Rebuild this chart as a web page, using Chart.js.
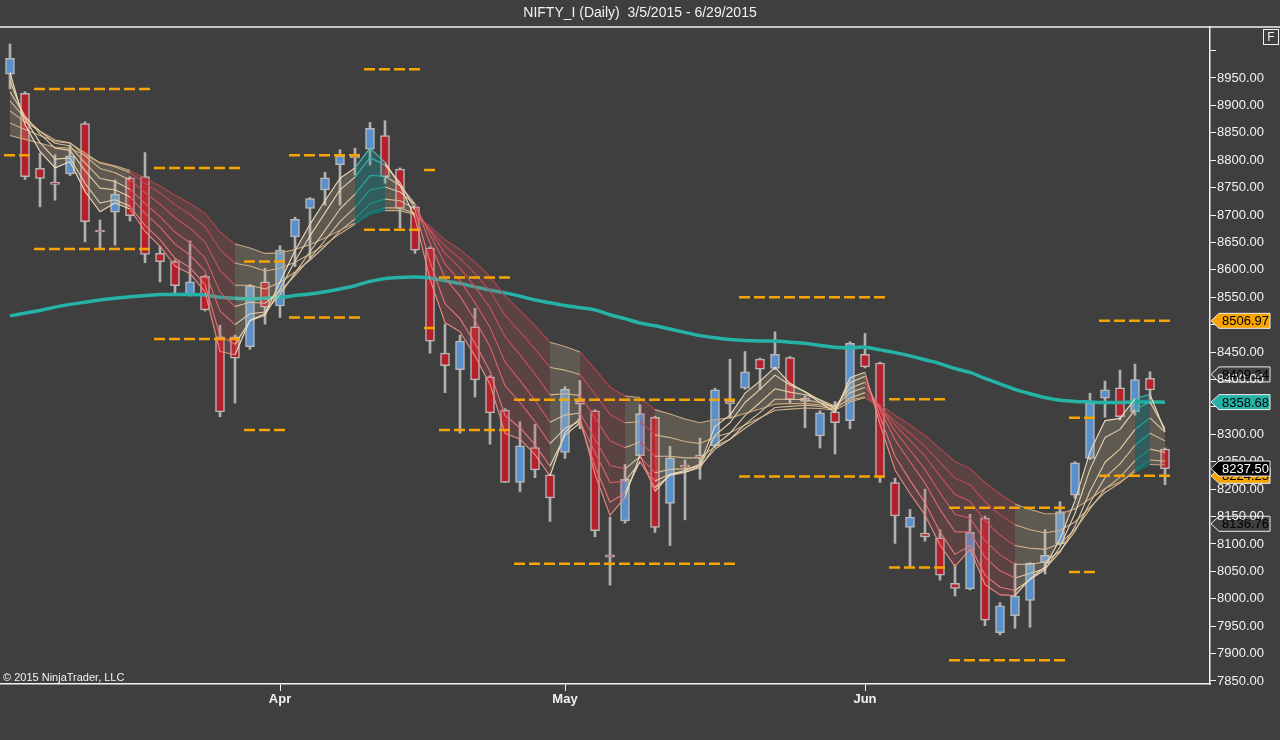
<!DOCTYPE html>
<html>
<head>
<meta charset="utf-8">
<script src="https://cdn.jsdelivr.net/npm/chart.js"></script>
<style>
  html, body { margin: 0; padding: 0; background: #3f3f3f; }
  canvas { display: block; }
</style>
</head>
<body>
<canvas id="chart" width="1280" height="740"></canvas>
<script>
// trading days shown on the chart
const dates = [
  '2015-03-05','2015-03-09','2015-03-10','2015-03-11','2015-03-12','2015-03-13','2015-03-16','2015-03-17','2015-03-18','2015-03-19',
  '2015-03-20','2015-03-23','2015-03-24','2015-03-25','2015-03-26','2015-03-27','2015-03-30','2015-03-31',
  '2015-04-01','2015-04-06','2015-04-07','2015-04-08','2015-04-09','2015-04-10','2015-04-13','2015-04-15','2015-04-16','2015-04-17',
  '2015-04-20','2015-04-21','2015-04-22','2015-04-23','2015-04-24','2015-04-27','2015-04-28','2015-04-29','2015-04-30',
  '2015-05-04','2015-05-05','2015-05-06','2015-05-07','2015-05-08','2015-05-11','2015-05-12','2015-05-13','2015-05-14','2015-05-15',
  '2015-05-18','2015-05-19','2015-05-20','2015-05-21','2015-05-22','2015-05-25','2015-05-26','2015-05-27','2015-05-28','2015-05-29',
  '2015-06-01','2015-06-02','2015-06-03','2015-06-04','2015-06-05','2015-06-08','2015-06-09','2015-06-10','2015-06-11','2015-06-12',
  '2015-06-15','2015-06-16','2015-06-17','2015-06-18','2015-06-19','2015-06-22','2015-06-23','2015-06-24','2015-06-25','2015-06-26',
  '2015-06-29'
]

const opens = [8957, 8922, 8785, 8758, 8775, 8867, 8672, 8705, 8768, 8770, 8630, 8615, 8555, 8588, 8478, 8478, 8460, 8578, 8534, 8660,
  8712, 8746, 8792, 8806, 8820, 8845, 8784, 8715, 8640, 8448, 8418, 8496, 8405, 8344, 8212, 8276, 8226, 8267, 8361, 8343,
  8080, 8142, 8261, 8331, 8174, 8243, 8261, 8279, 8360, 8384, 8437, 8420, 8440, 8366, 8297, 8341, 8325, 8446, 8430, 8212,
  8130, 8120, 8111, 8028, 8018, 8147, 7938, 7969, 7997, 8066, 8100, 8189, 8256, 8366, 8385, 8341, 8402, 8273]
const highs = [9012, 8925, 8813, 8810, 8828, 8870, 8691, 8764, 8770, 8814, 8643, 8618, 8653, 8590, 8499, 8481, 8573, 8603, 8644, 8696,
  8732, 8778, 8819, 8822, 8869, 8872, 8786, 8718, 8642, 8501, 8481, 8530, 8407, 8347, 8323, 8318, 8228, 8387, 8398, 8345,
  8149, 8245, 8354, 8333, 8278, 8253, 8293, 8384, 8437, 8451, 8439, 8487, 8442, 8370, 8343, 8360, 8469, 8484, 8432, 8220,
  8163, 8200, 8126, 8062, 8154, 8151, 7993, 8065, 8066, 8126, 8177, 8250, 8375, 8397, 8417, 8428, 8414, 8275]
const lows = [8930, 8765, 8715, 8727, 8772, 8651, 8639, 8645, 8689, 8613, 8578, 8557, 8552, 8525, 8332, 8357, 8455, 8501, 8513, 8606,
  8621, 8718, 8718, 8773, 8791, 8758, 8676, 8630, 8448, 8376, 8302, 8368, 8282, 8212, 8195, 8221, 8141, 8256, 8310, 8113,
  8025, 8138, 8256, 8121, 8097, 8144, 8218, 8276, 8329, 8382, 8382, 8418, 8357, 8312, 8275, 8264, 8310, 8421, 8212, 8101,
  8059, 8105, 8034, 8005, 8016, 7951, 7934, 7946, 7948, 8045, 8098, 8183, 8254, 8331, 8326, 8335, 8363, 8208]
const closes = [8986, 8770, 8767, 8756, 8808, 8688, 8669, 8738, 8699, 8628, 8615, 8571, 8578, 8527, 8341, 8439, 8571, 8532, 8636, 8692,
  8730, 8768, 8808, 8804, 8858, 8770, 8712, 8636, 8470, 8425, 8470, 8399, 8339, 8212, 8279, 8235, 8184, 8382, 8355, 8124,
  8076, 8218, 8338, 8130, 8257, 8240, 8258, 8381, 8356, 8414, 8419, 8446, 8363, 8360, 8339, 8321, 8466, 8423, 8222, 8151,
  8149, 8113, 8043, 8019, 8121, 7961, 7987, 8005, 8065, 8079, 8159, 8248, 8357, 8381, 8332, 8400, 8381, 8237.50]

// long moving average (teal)
const ma = [8516, 8521, 8526, 8532, 8537, 8541, 8545, 8548, 8551, 8553, 8555, 8555, 8555, 8554, 8550, 8548, 8547, 8548, 8550, 8553,
  8556, 8560, 8565, 8571, 8579, 8584, 8586, 8587, 8585, 8580, 8575, 8569, 8563, 8558, 8552, 8545, 8540, 8535, 8531, 8527,
  8518, 8511, 8503, 8498, 8492, 8486, 8480, 8476, 8473, 8471, 8470, 8470, 8468, 8466, 8462, 8459, 8458, 8459, 8454, 8449,
  8443, 8436, 8429, 8420, 8413, 8402, 8392, 8382, 8374, 8367, 8362, 8360, 8359, 8358, 8358, 8359, 8359, 8358.68]

// moving average ribbon, fastest line first
const ribbon1 = [8960, 8865, 8816, 8786, 8797, 8743, 8706, 8722, 8711, 8670, 8643, 8607, 8593, 8560, 8451, 8445, 8508, 8520, 8578, 8635,
  8683, 8726, 8767, 8786, 8822, 8796, 8754, 8695, 8583, 8504, 8487, 8443, 8391, 8302, 8291, 8263, 8224, 8303, 8329, 8227,
  8152, 8185, 8262, 8196, 8227, 8234, 8246, 8314, 8335, 8375, 8397, 8422, 8393, 8377, 8358, 8340, 8403, 8413, 8318, 8235,
  8192, 8153, 8098, 8059, 8090, 8026, 8007, 8006, 8036, 8058, 8109, 8179, 8268, 8325, 8329, 8365, 8373, 8305]
const ribbon2 = [8945, 8875, 8832, 8802, 8804, 8758, 8722, 8728, 8716, 8681, 8655, 8621, 8604, 8573, 8480, 8464, 8507, 8517, 8565, 8616,
  8662, 8704, 8746, 8769, 8805, 8791, 8759, 8710, 8614, 8538, 8511, 8466, 8415, 8334, 8312, 8281, 8242, 8298, 8321, 8242,
  8176, 8193, 8251, 8203, 8225, 8231, 8242, 8298, 8321, 8358, 8382, 8408, 8390, 8378, 8362, 8346, 8394, 8406, 8332, 8260,
  8216, 8175, 8122, 8081, 8097, 8043, 8021, 8015, 8035, 8053, 8095, 8156, 8236, 8294, 8309, 8345, 8359, 8310]
const ribbon3 = [8925, 8881, 8848, 8822, 8818, 8781, 8749, 8746, 8733, 8703, 8678, 8647, 8627, 8598, 8525, 8500, 8520, 8523, 8555, 8594,
  8633, 8672, 8711, 8738, 8772, 8771, 8754, 8720, 8649, 8585, 8552, 8508, 8460, 8389, 8358, 8323, 8283, 8311, 8324, 8267,
  8212, 8214, 8249, 8215, 8227, 8231, 8239, 8280, 8302, 8334, 8358, 8383, 8377, 8372, 8363, 8351, 8384, 8395, 8345, 8290,
  8250, 8211, 8163, 8122, 8122, 8076, 8051, 8038, 8046, 8055, 8085, 8132, 8196, 8249, 8273, 8309, 8330, 8304]
const ribbon4 = [8908, 8877, 8853, 8831, 8826, 8795, 8767, 8761, 8747, 8721, 8697, 8669, 8649, 8622, 8560, 8533, 8541, 8539, 8561, 8590,
  8621, 8654, 8688, 8714, 8746, 8751, 8742, 8719, 8664, 8611, 8580, 8540, 8495, 8432, 8398, 8362, 8322, 8335, 8339, 8291,
  8243, 8237, 8259, 8230, 8236, 8237, 8242, 8273, 8291, 8318, 8340, 8364, 8364, 8363, 8358, 8350, 8376, 8386, 8350, 8306,
  8271, 8236, 8193, 8154, 8147, 8106, 8080, 8063, 8063, 8067, 8087, 8123, 8175, 8221, 8246, 8280, 8302, 8288]
const ribbon5 = [8890, 8870, 8853, 8837, 8832, 8808, 8785, 8777, 8764, 8741, 8720, 8695, 8676, 8651, 8599, 8572, 8572, 8565, 8577, 8596,
  8618, 8643, 8671, 8693, 8721, 8729, 8726, 8711, 8671, 8630, 8603, 8569, 8531, 8478, 8445, 8410, 8372, 8374, 8371, 8330,
  8288, 8276, 8286, 8260, 8260, 8257, 8257, 8278, 8291, 8311, 8329, 8349, 8351, 8353, 8351, 8346, 8366, 8376, 8350, 8317,
  8289, 8260, 8224, 8190, 8178, 8142, 8116, 8097, 8092, 8090, 8101, 8126, 8164, 8200, 8222, 8252, 8273, 8267]
const ribbon6 = [8868, 8856, 8845, 8834, 8831, 8813, 8795, 8788, 8777, 8758, 8740, 8719, 8701, 8679, 8637, 8612, 8607, 8598, 8603, 8614,
  8629, 8646, 8666, 8683, 8705, 8713, 8713, 8703, 8674, 8643, 8621, 8593, 8561, 8517, 8487, 8456, 8422, 8417, 8409, 8373,
  8336, 8321, 8323, 8299, 8294, 8287, 8283, 8295, 8303, 8317, 8330, 8344, 8346, 8348, 8347, 8344, 8359, 8367, 8349, 8324,
  8302, 8278, 8249, 8220, 8208, 8177, 8153, 8135, 8126, 8120, 8125, 8140, 8167, 8194, 8211, 8235, 8253, 8251]
const ribbon7 = [8845, 8838, 8831, 8824, 8822, 8809, 8796, 8790, 8781, 8767, 8753, 8736, 8721, 8703, 8669, 8647, 8640, 8630, 8631, 8637,
  8646, 8658, 8672, 8685, 8701, 8708, 8708, 8701, 8679, 8655, 8637, 8614, 8588, 8552, 8526, 8498, 8468, 8460, 8450, 8419,
  8386, 8370, 8367, 8345, 8337, 8328, 8321, 8327, 8330, 8338, 8346, 8355, 8356, 8356, 8354, 8351, 8362, 8368, 8354, 8335,
  8317, 8298, 8274, 8250, 8238, 8212, 8191, 8173, 8163, 8155, 8155, 8164, 8182, 8201, 8213, 8231, 8245, 8244]
// ribbon state of the stretch ending at each bar: u = rising, d = falling, t = turning
const ribbonTone = ['u','u','u','u','u','u','u','u','u','d','d','d','d','d','d','d','u','u','u','u',
  'u','u','u','u','t','t','u','u','d','d','d','d','d','d','d','d','d','u','u','d',
  'd','d','u','d','u','u','u','u','u','u','u','u','u','u','u','u','u','u','d','d',
  'd','d','d','d','d','d','d','d','u','u','u','u','u','u','u','u','t','u']

// prior-period high / low levels (orange dashes), by bar range
const levelStart = [0, 2, 10, 16, 19, 24, 28, 29, 34, 49, 59, 63, 71, 73]
const levelEnd = [1, 9, 15, 18, 23, 27, 28, 33, 48, 58, 62, 70, 72, 77]
const levelHigh = [null, 8930, 8786, 8615, 8809, 8966, 8782, 8586, 8363, 8550, 8364, 8166, 8330, 8506.97]
const levelLow = [8809, 8638, 8474, 8308, 8513, 8673, 8494, 8308, 8064, 8223, 8057, 7888, 8049, 8224.25]

// other price markers on the axis
const extraMarkers = [8409.24, 8136.76]

const yTickValues = [7850, 7900, 7950, 8000, 8050, 8100, 8150, 8200, 8250, 8300, 8350, 8400, 8450, 8500, 8550, 8600,
  8650, 8700, 8750, 8800, 8850, 8900, 8950, 9000]
const monthNames = ['Jan','Feb','Mar','Apr','May','Jun','Jul','Aug','Sep','Oct','Nov','Dec']

const FONT = '"Liberation Sans", Arial, sans-serif'
const INK = '#f2f2f2'

const monthStarts = dates
    .map((d, i) => i > 0 && d.slice(5, 7) !== dates[i - 1].slice(5, 7) ? i : -1)
    .filter(i => i >= 0)

const ribbonInk = {
  u: ['#eedcbc', '#e8d3b0', '#e2caa5', '#dcc29b', '#d6b991', '#cfb088', '#c8a880'],
  d: ['#ee8a84', '#e67777', '#dc676c', '#d25b63', '#c8525b', '#be4a55', '#b4444f'],
  t: ['#3fc3bd', '#33b7b1', '#28aba6', '#1f9f9b', '#179390', '#108785', '#0b7b7a']
}
const ribbonWash = {
  u: 'rgba(222,198,160,0.2)',
  d: 'rgba(205,80,85,0.2)',
  t: 'rgba(25,160,155,0.32)'
}

function levelPoints(values) {
  let pts = []
  values.forEach((v, k) => {
    if (v === null) return
    pts.push({x: levelStart[k] - 0.4, y: v}, {x: levelEnd[k] + 0.45, y: v}, {x: levelEnd[k] + 0.5, y: null})
  })
  return pts
}

function ribbonLine(values, k, extra) {
  return Object.assign({
    type: 'line',
    data: values.map((v, i) => ({x: i, y: v})),
    borderWidth: 1.1,
    pointRadius: 0,
    tension: 0,
    borderJoinStyle: 'round',
    order: 1 + k,
    segment: {
      borderColor: ctx => ribbonInk[ribbonTone[ctx.p1DataIndex]][k]
    }
  }, extra || {})
}

const levelStyle = {
  type: 'line',
  borderColor: '#f7a400',
  borderWidth: 2.5,
  borderDash: [11, 4],
  pointRadius: 0,
  spanGaps: false,
  fill: false,
  order: 0
}

const datasets = [
  Object.assign({data: levelPoints(levelHigh)}, levelStyle),
  Object.assign({data: levelPoints(levelLow)}, levelStyle),
  ribbonLine(ribbon1, 0),
  ribbonLine(ribbon2, 1),
  ribbonLine(ribbon3, 2),
  ribbonLine(ribbon4, 3),
  ribbonLine(ribbon5, 4),
  ribbonLine(ribbon6, 5),
  ribbonLine(ribbon7, 6, {
    fill: {target: 2},
    backgroundColor: ribbonWash.u,
    segment: {
      borderColor: ctx => ribbonInk[ribbonTone[ctx.p1DataIndex]][6],
      backgroundColor: ctx => ribbonWash[ribbonTone[ctx.p1DataIndex]]
    }
  }),
  {
    type: 'line',
    data: ma.map((v, i) => ({x: i, y: v})),
    borderColor: '#25b3a7',
    borderWidth: 3.5,
    pointRadius: 0,
    tension: 0.3,
    order: 8
  },
  {
    type: 'bar',
    data: opens.map((o, i) => ({x: i, y: [o, closes[i]]})),
    backgroundColor: opens.map((o, i) => closes[i] >= o ? '#5790cc' : '#b5202b'),
    borderColor: '#b7b7b7',
    borderWidth: 1.5,
    borderSkipped: false,
    barThickness: 9,
    minBarLength: 2,
    grouped: false,
    order: 9
  },
  {
    type: 'bar',
    data: lows.map((l, i) => ({x: i, y: [l, highs[i]]})),
    backgroundColor: '#b0b0b0',
    borderWidth: 0,
    barThickness: 2,
    grouped: false,
    order: 10
  }
]

function drawMarker(ctx, x0, y, text, fill, ink) {
  const h = 15, tip = 8, x1 = 1270
  ctx.beginPath()
  ctx.moveTo(x0, y)
  ctx.lineTo(x0 + tip, y - h / 2)
  ctx.lineTo(x1, y - h / 2)
  ctx.lineTo(x1, y + h / 2)
  ctx.lineTo(x0 + tip, y + h / 2)
  ctx.closePath()
  if (fill) {
    ctx.fillStyle = fill
    ctx.fill()
  }
  ctx.strokeStyle = '#eeeeee'
  ctx.lineWidth = 1
  ctx.stroke()
  ctx.fillStyle = ink
  ctx.font = `13px ${FONT}`
  ctx.textAlign = 'left'
  ctx.textBaseline = 'middle'
  ctx.fillText(text, x0 + 11, y + 1)
}

const chrome = {
  id: 'chrome',
  beforeDraw(chart) {
    let ctx = chart.ctx
    ctx.save()
    ctx.fillStyle = '#3f3f3f'
    ctx.fillRect(0, 0, chart.width, chart.height)
    ctx.restore()
  },
  afterDraw(chart) {
    let ctx = chart.ctx
    let area = chart.chartArea
    let yScale = chart.scales.y
    ctx.save()
    ctx.strokeStyle = INK
    ctx.lineWidth = 1.5
    ctx.beginPath()
    ctx.moveTo(0, 27)
    ctx.lineTo(chart.width, 27)
    ctx.stroke()

    ctx.lineWidth = 1
    ctx.strokeRect(1263.5, 29.5, 15, 15)
    ctx.fillStyle = INK
    ctx.font = `12px ${FONT}`
    ctx.textAlign = 'center'
    ctx.textBaseline = 'middle'
    ctx.fillText('F', 1271, 37.5)

    ctx.textAlign = 'left'
    ctx.font = `11px ${FONT}`
    ctx.fillText('© 2015 NinjaTrader, LLC', 3, area.bottom - 6)

    let x0 = area.right + 1
    extraMarkers.forEach(v => drawMarker(ctx, x0, yScale.getPixelForValue(v), v.toFixed(2), null, '#000000'))
    drawMarker(ctx, x0, yScale.getPixelForValue(levelHigh.at(-1)), levelHigh.at(-1).toFixed(2), '#f7a400', '#000000')
    drawMarker(ctx, x0, yScale.getPixelForValue(ma.at(-1)), ma.at(-1).toFixed(2), '#25b3a7', '#000000')
    drawMarker(ctx, x0, yScale.getPixelForValue(levelLow.at(-1)), levelLow.at(-1).toFixed(2), '#f7a400', '#000000')
    drawMarker(ctx, x0, yScale.getPixelForValue(closes.at(-1)), closes.at(-1).toFixed(2), '#000000', '#ffffff')
    ctx.restore()
  }
}

new Chart(document.getElementById('chart'), {
  type: 'bar',
  data: {datasets: datasets},
  options: {
    responsive: false,
    animation: false,
    events: [],
    devicePixelRatio: 1,
    layout: {padding: 0},
    plugins: {
      legend: {display: false},
      tooltip: {enabled: false},
      title: {
        display: true,
        text: 'NIFTY_I (Daily)  3/5/2015 - 6/29/2015',
        color: INK,
        font: {family: FONT, size: 14, weight: 'normal', lineHeight: 1.2},
        padding: {top: 5, bottom: 5.2}
      }
    },
    scales: {
      x: {
        type: 'linear',
        position: 'bottom',
        min: -0.6667,
        max: 80,
        offset: false,
        afterBuildTicks: scale => { scale.ticks = monthStarts.map(v => ({value: v})) },
        afterFit: scale => { scale.height = 56 },
        ticks: {
          autoSkip: false,
          maxRotation: 0,
          color: INK,
          padding: 1,
          font: {family: FONT, size: 13, weight: 'bold'},
          callback: v => monthNames[parseInt(dates[v].slice(5, 7)) - 1]
        },
        grid: {offset: false, drawOnChartArea: false, drawTicks: true, tickLength: 7, color: INK},
        border: {display: true, color: INK, width: 1.5}
      },
      y: {
        type: 'linear',
        position: 'right',
        min: 7844.5,
        max: 9043,
        afterBuildTicks: scale => { scale.ticks = yTickValues.map(v => ({value: v})) },
        afterFit: scale => { scale.width = 70 },
        ticks: {
          color: INK,
          padding: 1,
          crossAlign: 'near',
          font: {family: FONT, size: 13},
          callback: v => v > 8950 ? '' : v.toFixed(2)
        },
        grid: {offset: false, drawOnChartArea: false, drawTicks: true, tickLength: 6, color: INK},
        border: {display: true, color: INK, width: 1.5}
      }
    }
  },
  plugins: [chrome]
})
</script>
</body>
</html>
